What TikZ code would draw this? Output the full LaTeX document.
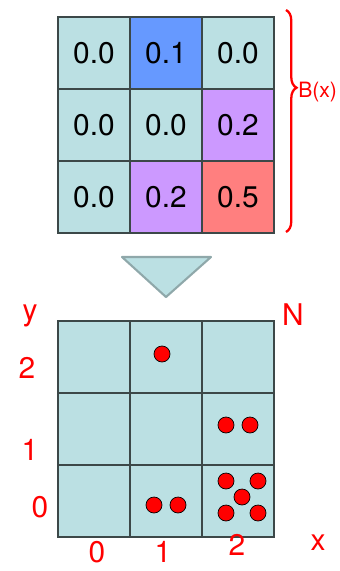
\documentclass[tikz,border=0pt]{standalone}
\usepackage{fontspec}
\setmainfont{TeX Gyre Heros}
\usepackage{tikz}
\usetikzlibrary{decorations.pathreplacing}

\definecolor{cellcyan}{RGB}{187,224,227}
\definecolor{cellblue}{RGB}{102,153,255}
\definecolor{cellpurple}{RGB}{204,153,255}
\definecolor{cellred}{RGB}{255,127,127}
\definecolor{gridgray}{RGB}{60,72,72}
\definecolor{arrowgray}{RGB}{143,168,170}
\definecolor{inkred}{RGB}{255,0,0}

\tikzset{
  cell/.style={draw=gridgray,line width=0.8pt,minimum size=1.44cm,inner sep=0pt,
    font=\fontsize{17}{19}\selectfont},
  ball/.style={circle,fill=red,draw=black,line width=0.4pt,minimum size=0.32cm,inner sep=0pt},
  hand/.style={text=inkred,font=\fontsize{17}{19}\selectfont},
}

\begin{document}
\begin{tikzpicture}[x=0.02cm,y=-0.02cm]
\useasboundingbox (0,0) rectangle (339,571);
% probability grid
\foreach \v/\c/\col/\row in {0.0/cellcyan/0/0,0.1/cellblue/1/0,0.0/cellcyan/2/0,
  0.0/cellcyan/0/1,0.0/cellcyan/1/1,0.2/cellpurple/2/1,
  0.0/cellcyan/0/2,0.2/cellpurple/1/2,0.5/cellred/2/2}
  \node[cell,fill=\c] (p\col\row) at ({94+72*\col},{53+72*\row}) {\v};
% sampling arrow
\coordinate (tl) at (122,257);
\coordinate (tr) at (211,257);
\coordinate (tb) at (166,297);
\draw[fill=cellcyan,draw=arrowgray,line width=1.2pt,line join=round] (tl) -- (tr) -- (tb) -- cycle;
% count grid
\foreach \col in {0,1,2}
  \foreach \row in {0,1,2}
    \node[cell,fill=cellcyan] (n\col\row) at ({94+72*\col},{357+72*\row}) {};
\node[ball] (b1) at (162,354) {};
\node[ball] (b2) at (226,425) {};
\node[ball] (b3) at (250,425) {};
\node[ball] (b4) at (154,505) {};
\node[ball] (b5) at (178,505) {};
\node[ball] (b6) at (226,481) {};
\node[ball] (b7) at (258,481) {};
\node[ball] (b8) at (242,497) {};
\node[ball] (b9) at (226,513) {};
\node[ball] (b10) at (258,513) {};
% red notes
\coordinate (bt) at (286,10);
\coordinate (bb) at (286,232);
\draw[inkred,line width=1.3pt,decorate,decoration={brace,amplitude=6pt,aspect=0.35}] (bt) -- (bb);
\node[hand,anchor=west,inner sep=0pt,font=\fontsize{12}{14}\selectfont] (bx) at (298,92) {B(x)};
\node[hand] (ny) at (30,316) {y};
\node[hand] (y2) at (27,368) {2};
\node[hand] (y1) at (30,450) {1};
\node[hand] (y0) at (40,507) {0};
\node[hand] (x0) at (97,552) {0};
\node[hand] (x1) at (163,552) {1};
\node[hand] (x2) at (237,545) {2};
\node[hand] (nx) at (318,543) {x};
\node[hand] (nN) at (293,315) {N};
\end{tikzpicture}
\end{document}
